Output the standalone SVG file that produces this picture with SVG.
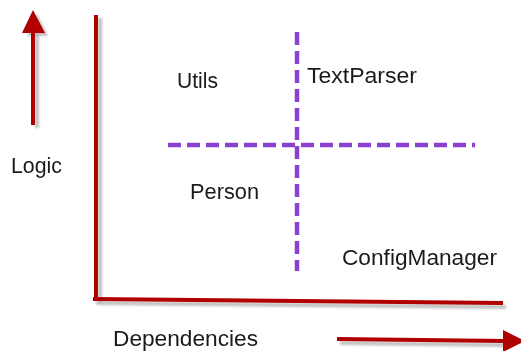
<svg xmlns="http://www.w3.org/2000/svg" width="521" height="351" viewBox="0 0 521 351">
<style>
.lbl{font-family:"Liberation Sans",Arial,sans-serif;font-size:22px;fill:#1a1a1a}
.axis{stroke:#b00000;stroke-width:4;fill:none}
.shadow{stroke:#a8a8a8;stroke-width:4;fill:none;opacity:0.7}
.dash{stroke:#8a40d0;stroke-width:4.5;fill:none;stroke-dasharray:13 6}
</style>
<defs>
<filter id="blur" x="-20%" y="-20%" width="140%" height="140%"><feGaussianBlur stdDeviation="1"/></filter>
</defs>
<rect width="521" height="351" fill="#ffffff"/>
<g id="connectors">
<g filter="url(#blur)">
<line class="shadow" x1="37" y1="34" x2="37" y2="128"/>
<polygon points="37,14 48,36 27,36" fill="#a8a8a8" opacity="0.7"/>
<line class="shadow" x1="100" y1="18" x2="100" y2="302"/>
<line class="shadow" x1="96" y1="303" x2="506" y2="307"/>
<line class="shadow" x1="340" y1="343" x2="506" y2="345"/>
</g>
<line class="axis" x1="33" y1="30" x2="33" y2="125"/>
<polygon points="33,10 45,33 22,33" fill="#b00000"/>
<line class="axis" x1="96" y1="15" x2="96" y2="300"/>
<line class="axis" x1="93" y1="299" x2="503" y2="303"/>
<line class="axis" x1="337" y1="339" x2="505" y2="341"/>
<polygon points="503,330 525,341 503,352" fill="#b00000"/>
<line class="dash" x1="297" y1="32" x2="297" y2="271"/>
<line class="dash" x1="168" y1="145" x2="475" y2="145"/>
</g>
<g id="logic"><text class="lbl" x="11" y="173" textLength="51" lengthAdjust="spacingAndGlyphs">Logic</text></g>
<g id="utils"><text class="lbl" x="177" y="88" textLength="41" lengthAdjust="spacingAndGlyphs">Utils</text></g>
<g id="textparser"><text class="lbl" x="307" y="83" textLength="110" lengthAdjust="spacingAndGlyphs">TextParser</text></g>
<g id="person"><text class="lbl" x="190" y="199" textLength="69" lengthAdjust="spacingAndGlyphs">Person</text></g>
<g id="configmanager"><text class="lbl" x="342" y="265" textLength="155" lengthAdjust="spacingAndGlyphs">ConfigManager</text></g>
<g id="dependencies"><text class="lbl" x="113" y="346" textLength="145" lengthAdjust="spacingAndGlyphs">Dependencies</text></g>
</svg>
